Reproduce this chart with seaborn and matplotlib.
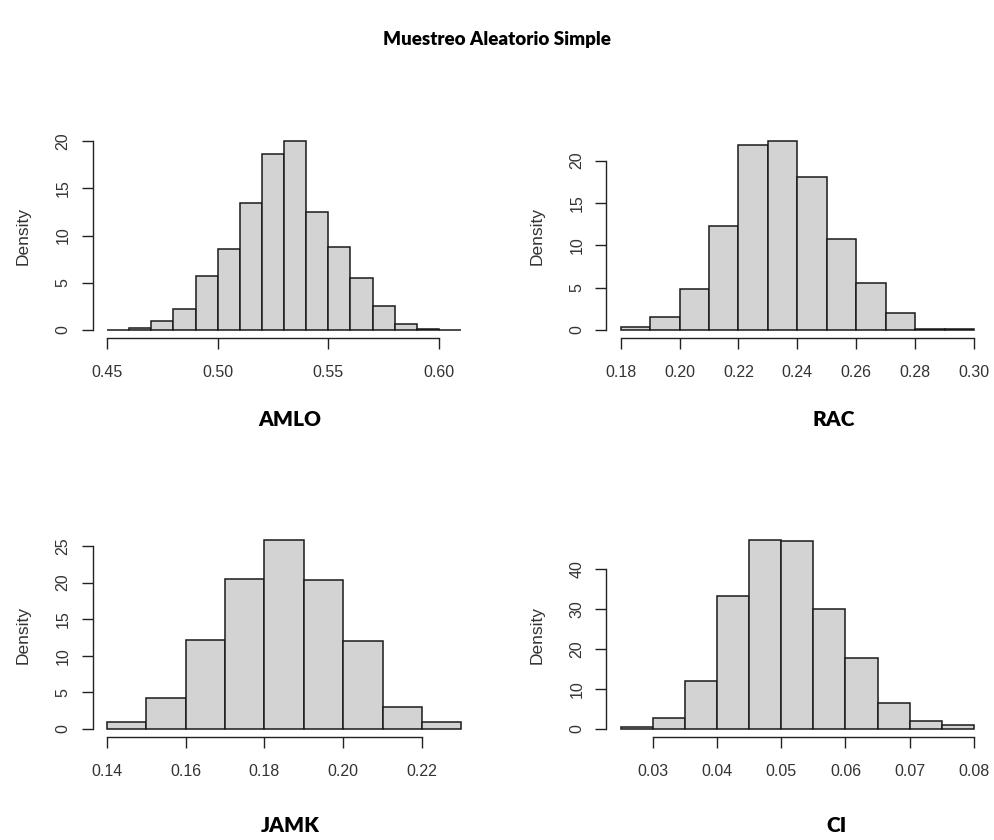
#!/usr/bin/env python3
"""
Muestreo Aleatorio Simple - density histograms for each candidate.
R-style base graphics look, rebuilt with seaborn/matplotlib.
"""

import numpy as np
import pandas as pd
import matplotlib
matplotlib.use("Agg")
import matplotlib.pyplot as plt
import seaborn as sns

# --- data: histogram densities ---
amlo_start, amlo_step = 0.45, 0.01
amlo_density = [0.05, 0.2, 1.0, 2.2, 5.7, 8.6, 13.4, 18.6, 20.0, 12.5,
                8.8, 5.5, 2.5, 0.65, 0.15, 0.05]
amlo_xticks = [0.45, 0.50, 0.55, 0.60]
amlo_yticks = [0, 5, 10, 15, 20]

rac_start, rac_step = 0.18, 0.01
rac_density = [0.3, 1.5, 4.9, 12.3, 21.8, 22.3, 18.1, 10.7, 5.6, 2.0, 0.15, 0.15]
rac_xticks = [0.18, 0.20, 0.22, 0.24, 0.26, 0.28, 0.30]
rac_yticks = [0, 5, 10, 15, 20]

jamk_start, jamk_step = 0.14, 0.01
jamk_density = [0.9, 4.3, 12.1, 20.5, 25.8, 20.3, 12.0, 3.0, 1.0]
jamk_xticks = [0.14, 0.16, 0.18, 0.20, 0.22]
jamk_yticks = [0, 5, 10, 15, 20, 25]

ci_start, ci_step = 0.025, 0.005
ci_density = [0.5, 2.8, 12.0, 33.2, 47.3, 47.0, 30.1, 17.7, 6.5, 2.0, 1.0]
ci_xticks = [0.03, 0.04, 0.05, 0.06, 0.07, 0.08]
ci_yticks = [0, 10, 20, 30, 40]

names = ["AMLO", "RAC", "JAMK", "CI"]

W, H = 995, 840


def r_hist(ax, start, step, density, xticks, yticks, fmt):
    """Draw an R-like hist(freq=FALSE) panel."""
    edges = np.round(start + step * np.arange(len(density) + 1), 4)
    df = pd.DataFrame({
        "mid": (edges[:-1] + edges[1:]) / 2,
        "dens": density,
    })
    sns.histplot(data=df, x="mid", weights="dens", bins=edges.tolist(),
                 stat="count", color="#D3D3D3", edgecolor="#1a1a1a",
                 linewidth=1.1, alpha=1, ax=ax)

    # R pads the range by 4% on both sides
    xr = edges[-1] - edges[0]
    ax.set_xlim(edges[0] - 0.04 * xr, edges[-1] + 0.04 * xr)
    ymax = max(density)
    ax.set_ylim(-0.04 * ymax, 1.04 * ymax)

    ax.set_xticks(xticks)
    ax.set_xticklabels([fmt.format(t) for t in xticks])
    ax.set_yticks(yticks)
    ax.set_yticklabels([str(t) for t in yticks], rotation=90, va="center")

    for side in ["top", "right"]:
        ax.spines[side].set_visible(False)
    ax.spines["bottom"].set_bounds(xticks[0], xticks[-1])
    ax.spines["left"].set_bounds(yticks[0], yticks[-1])
    for side in ["bottom", "left"]:
        ax.spines[side].set_linewidth(1.0)
        ax.spines[side].set_color("#222222")

    ax.tick_params(axis="both", direction="out", length=8, width=1.0,
                   color="#222222", labelsize=11.5, labelcolor="#333333",
                   bottom=True, left=True)
    ax.tick_params(axis="x", pad=12)
    ax.tick_params(axis="y", pad=8)
    ax.set_xlabel("")
    ax.set_ylabel("Density", fontsize=12.5, color="#333333", labelpad=18)
    ax.grid(False)


sns.set_style("white")
plt.rcParams["font.family"] = ["Liberation Sans", "DejaVu Sans"]

fig = plt.figure(figsize=(W / 100, H / 100), dpi=100)

# plot regions (pixels): left col 93-475, right col 606-988; rows 133-338, 533-737
positions = [
    (92.8, 133.5, 475.3, 337.6),
    (606.5, 133.5, 988.1, 337.6),
    (92.8, 532.6, 475.5, 736.6),
    (606.5, 532.6, 988.1, 736.6),
]
axes = []
for x0, y0, x1, y1 in positions:
    axes.append(fig.add_axes([x0 / W, 1 - y1 / H, (x1 - x0) / W, (y1 - y0) / H]))

r_hist(axes[0], amlo_start, amlo_step, amlo_density, amlo_xticks, amlo_yticks, "{:.2f}")
r_hist(axes[1], rac_start, rac_step, rac_density, rac_xticks, rac_yticks, "{:.2f}")
r_hist(axes[2], jamk_start, jamk_step, jamk_density, jamk_xticks, jamk_yticks, "{:.2f}")
r_hist(axes[3], ci_start, ci_step, ci_density, ci_xticks, ci_yticks, "{:.2f}")

# bold captions under each panel
label_font = ["Lato", "Open Sans", "DejaVu Sans"]
caption_xy = [(290, 420), (834, 420), (290, 826), (837, 826)]
for name, (cx, cy) in zip(names, caption_xy):
    fig.text(cx / W, 1 - cy / H, name, ha="center", va="center", color="black",
             fontsize=15, fontweight="heavy", family=label_font)

fig.text(497 / W, 1 - 40 / H, "Muestreo Aleatorio Simple", ha="center",
         va="center", fontsize=13.5, fontweight="heavy", color="black",
         family=label_font)

fig.savefig("out.png", dpi=100)
plt.close(fig)
